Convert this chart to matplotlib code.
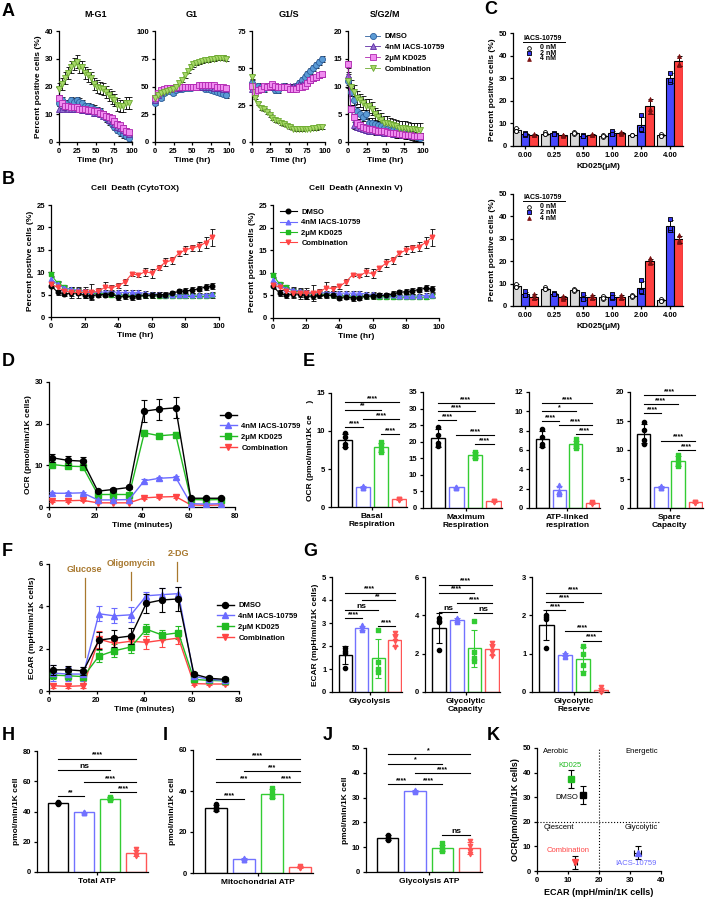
import numpy as np
import matplotlib
matplotlib.use("Agg")
import matplotlib.pyplot as plt
from matplotlib.lines import Line2D

plt.rcParams['font.family'] = ['Liberation Sans', 'DejaVu Sans']
plt.rcParams['font.weight'] = 'bold'
plt.rcParams['axes.labelweight'] = 'bold'
plt.rcParams['axes.titleweight'] = 'bold'
plt.rcParams['font.size'] = 5.5
plt.rcParams['axes.linewidth'] = 0.9

W, H = 708, 899

# ---------------- data ----------------
hours = [0, 4, 8, 12, 16, 20, 24, 28, 32, 36, 40, 44, 48, 52, 56, 60, 64, 68, 72, 76, 80, 84, 88, 92, 96]
groups4 = ['DMSO', '4nM IACS-10759', '2\u03bcM KD025', 'Combination']

# A: cell cycle phases
mg1_dmso = [14, 15, 14, 13, 15, 14.5, 15, 14.5, 14, 13, 13, 12.5, 12, 11.5, 11, 10, 8.5, 7.5, 6.5, 5.5, 4.5, 3.5, 2.8, 2.2, 1.5]
mg1_iacs = [12, 12, 12.5, 12, 12, 12, 12, 12, 11.5, 11.5, 11, 11, 10.5, 10.5, 10, 9.5, 9, 8, 7.5, 6.5, 5.5, 5, 4.5, 3.5, 3]
mg1_kd = [16, 14, 13, 13, 12.5, 12.5, 12.5, 12, 12, 12, 11.5, 11.5, 11, 11, 10.5, 10, 9.5, 9, 8.5, 7.5, 6.5, 6, 5, 4, 3.5]
mg1_combo = [19, 21, 23, 25, 27, 28, 29, 27, 27, 25, 24, 23, 21, 20, 19.5, 19, 18, 17, 16, 15, 13.5, 13, 13, 14, 14]

g1_dmso = [35, 42, 40, 44, 46, 46, 44, 47, 48, 48, 49, 49, 49, 50, 50, 51, 50, 48, 48, 47, 46, 45, 44, 43, 42]
g1_iacs = [38, 42, 45, 47, 48, 48, 49, 49, 49, 50, 50, 50, 50, 50, 50, 50, 50, 50, 50, 50, 49, 49, 49, 48, 48]
g1_kd = [40, 44, 47, 48, 49, 49, 49, 50, 50, 50, 50, 50, 50, 50, 50, 51, 51, 51, 51, 51, 51, 50, 50, 50, 49]
g1_combo = [40, 42, 44, 45, 46, 47, 48, 50, 53, 56, 60, 64, 68, 70, 71, 72, 73, 74, 74, 75, 75, 76, 76, 76, 75]

g1s_dmso = [40, 35, 38, 37, 36, 38, 37, 37, 35, 35, 37, 38, 37, 36, 36, 38, 40, 42, 44, 46, 48, 50, 52, 54, 56]
g1s_iacs = [36, 35, 36, 36, 37, 37, 37, 37, 37, 38, 38, 38, 38, 38, 38, 38, 39, 39, 40, 41, 42, 43, 44, 45, 46]
g1s_kd = [38, 34, 35, 36, 38, 37, 38, 39, 38, 37, 37, 37, 37, 36, 36, 36, 37, 37, 38, 40, 42, 43, 44, 45, 46]
g1s_combo = [44, 30, 26, 23, 22, 20, 18, 16, 15, 14, 13, 12, 11, 10, 9, 8.5, 8.5, 8.5, 9, 9, 9, 9.5, 9.5, 10, 10]

sg2m_dmso = [11, 9, 7.5, 5.5, 5, 4.5, 5, 3.5, 3.5, 3.2, 3, 2.8, 2.6, 2.4, 2.2, 2.1, 2, 1.8, 1.6, 1.5, 1.4, 1.2, 1, 0.9, 0.8]
sg2m_iacs = [12, 6, 3, 2.7, 2.5, 2.4, 2.2, 2, 2, 1.9, 1.8, 1.8, 1.7, 1.6, 1.6, 1.5, 1.4, 1.4, 1.3, 1.2, 1.2, 1.1, 1.1, 1, 1]
sg2m_kd = [14, 6, 4.5, 3.5, 3, 2.7, 2.5, 2.4, 2.3, 2.2, 2, 2, 1.9, 1.8, 1.7, 1.6, 1.6, 1.5, 1.4, 1.3, 1.2, 1.2, 1.1, 1, 1]
sg2m_combo = [11, 10, 9, 8, 7.5, 7, 6.5, 6.5, 6, 5, 4.5, 4, 3.5, 3.5, 3.2, 3, 2.8, 2.6, 2.5, 2.5, 2.4, 2.3, 2.3, 2.2, 2.2]

a_titles = ['M-G1', 'G1', 'G1/S', 'S/G2/M']
a_ymax = [40, 100, 75, 20]
a_yticks = [[0, 10, 20, 30, 40], [0, 25, 50, 75, 100], [0, 25, 50, 75], [0, 5, 10, 15, 20]]
a_err = [[1.2, 1.0, 1.0, 2.2], [2, 1.5, 1.5, 2], [2, 1.5, 1.5, 1.2], [0.8, 0.6, 0.6, 1.2]]

# B: cell death
cyto_dmso = [7, 5.5, 5.2, 5.3, 5.4, 4.8, 4.7, 5, 5, 5.1, 4.5, 4.7, 4.5, 4.6, 4.8, 4.9, 5, 5, 5.3, 5.7, 5.8, 6, 6.3, 6.7, 6.9]
cyto_iacs = [8.5, 7.3, 6.5, 6.2, 6, 5.8, 5.6, 5.5, 5.6, 5.6, 5.5, 5.5, 5.5, 5.5, 5.3, 5.2, 5.1, 5, 5, 4.9, 4.8, 4.8, 4.9, 5, 5.1]
cyto_kd = [9.5, 7.5, 6.8, 6, 5.8, 5.4, 5.3, 5.3, 5.2, 5, 4.9, 4.9, 4.8, 4.8, 4.8, 4.8, 4.7, 4.7, 4.7, 4.6, 4.6, 4.6, 4.6, 4.6, 4.8]
cyto_combo = [7.3, 6.6, 5.8, 5.5, 5.5, 5.5, 5.5, 5.7, 6.6, 6.5, 7, 7.8, 9.6, 9.4, 10.1, 9.8, 11, 12.2, 12.7, 14.2, 15, 15.4, 15.8, 16.6, 17.8]
cyto_combo_err = [0.6, 0.6, 0.7, 1.2, 1.2, 1.2, 1.8, 0.8, 1.2, 0.6, 0.6, 0.6, 0.4, 0.4, 0.9, 1.0, 0.5, 0.9, 0.8, 0.6, 0.9, 0.7, 1.0, 1.3, 1.9]
anx_dmso = [7, 5.5, 5, 5.3, 5.3, 4.9, 4.8, 5, 5, 5, 4.5, 4.7, 4.4, 4.5, 4.8, 4.9, 5, 5, 5.3, 5.7, 5.8, 6, 6.3, 6.6, 6.4]
anx_iacs = [8.5, 7.2, 6.5, 6.2, 6, 5.8, 5.6, 5.5, 5.6, 5.6, 5.5, 5.5, 5.5, 5.5, 5.3, 5.2, 5.1, 5, 5, 4.9, 4.8, 4.8, 4.9, 5, 5.1]
anx_kd = [9.5, 7.5, 6.8, 6, 5.8, 5.4, 5.3, 5.3, 5.2, 5, 4.9, 4.9, 4.8, 4.8, 4.8, 4.8, 4.7, 4.7, 4.7, 4.6, 4.6, 4.6, 4.6, 4.6, 4.8]
anx_combo = [7.3, 6.8, 6, 5.6, 5.5, 5.5, 5.5, 5.7, 6.7, 6.5, 7, 8, 9.6, 9.4, 10.1, 9.8, 11, 12.1, 12.8, 14.3, 15, 15.4, 15.8, 16.7, 17.9]
anx_combo_err = [0.6, 0.6, 0.7, 1.2, 1.2, 1.2, 1.8, 0.8, 1.2, 0.6, 0.6, 0.6, 0.4, 0.4, 0.9, 1.0, 0.5, 0.9, 0.8, 0.6, 0.9, 0.7, 1.0, 1.3, 1.9]
b_dmso_err = 0.6
b_other_err = 0.45

# C: bar charts, replicates
kd_doses = ['0.00', '0.25', '0.50', '1.00', '2.00', '4.00']
iacs_doses = ['0 nM', '2 nM', '4 nM']
c1_0nm = [[8, 6.5, 6.5], [6, 5.2, 5.3], [6.2, 5.5, 5.8], [4.8, 4.2, 4.5], [5, 4.7, 4.8], [5.2, 4.4, 4.6]]
c1_2nm = [[5.8, 5, 5.1], [5.9, 5.3, 5.4], [4.8, 4.3, 4.4], [6.8, 5.2, 5.5], [13.5, 7.5, 7.5], [32.5, 28.5, 29]]
c1_4nm = [[5.2, 4.8, 5], [5, 4.6, 4.8], [5.3, 4.8, 4.9], [6.3, 5.5, 5.6], [21, 15, 16.5], [40, 36, 36.5]]
c2_0nm = [[9.8, 8.6, 8.6], [8.3, 7.5, 7.6], [7.8, 6.8, 7], [4.5, 3.3, 3.6], [4.9, 4.2, 4.4], [3, 2.2, 2.3]]
c2_2nm = [[6.5, 5, 5], [6, 5.2, 5.3], [5.2, 3, 3.2], [5.2, 3.5, 3.9], [11.5, 6.5, 6.6], [38.8, 34, 34.6]]
c2_4nm = [[5.4, 3.5, 3.7], [4.5, 3.3, 3.6], [4.8, 3.5, 3.7], [4.9, 3.5, 3.6], [21.3, 19, 19.7], [31.5, 28.5, 29.4]]

# D / F: seahorse time course
seahorse_min = [1.5, 8, 14.5, 21, 27.5, 34.5, 41, 47.5, 54.5, 61, 67.5, 74]
ocr_dmso = [11.8, 11.2, 11, 3.8, 4.2, 4.7, 23, 23.5, 23.8, 2.1, 2.1, 2.1]
ocr_dmso_err = [1, 1, 1, 0.3, 0.3, 0.3, 2.7, 2.5, 2.5, 0.2, 0.2, 0.2]
ocr_iacs = [3.3, 3.3, 3.4, 1.7, 1.7, 1.8, 6.3, 6.9, 7.1, 0.8, 0.7, 0.8]
ocr_iacs_err = [0.3, 0.3, 0.3, 0.2, 0.2, 0.2, 0.4, 0.4, 0.4, 0.1, 0.1, 0.1]
ocr_kd = [10.2, 9.8, 9.7, 3, 3, 3, 17.8, 17.1, 17.4, 1.8, 1.7, 1.8]
ocr_kd_err = [0.5, 0.5, 0.5, 0.2, 0.2, 0.2, 0.6, 0.6, 0.6, 0.1, 0.1, 0.1]
ocr_combo = [1.5, 1.5, 1.6, 1, 1, 1, 2.2, 2.4, 2.5, 0.5, 0.4, 0.5]
ocr_combo_err = [0.2, 0.2, 0.2, 0.1, 0.1, 0.1, 0.3, 0.3, 0.3, 0.1, 0.1, 0.1]

ecar_dmso = [1.0, 1.0, 0.95, 2.4, 2.5, 2.6, 4.15, 4.3, 4.35, 0.8, 0.6, 0.55]
ecar_dmso_err = [0.25, 0.2, 0.2, 0.4, 0.4, 0.4, 0.45, 0.55, 0.55, 0.1, 0.1, 0.1]
ecar_iacs = [0.85, 0.8, 0.8, 3.65, 3.55, 3.6, 4.5, 4.55, 4.6, 0.7, 0.55, 0.5]
ecar_iacs_err = [0.4, 0.35, 0.35, 0.35, 0.35, 0.35, 0.2, 0.3, 0.3, 0.1, 0.1, 0.1]
ecar_kd = [0.75, 0.72, 0.68, 1.65, 1.9, 2.08, 2.92, 2.65, 2.75, 0.55, 0.5, 0.48]
ecar_kd_err = [0.2, 0.2, 0.2, 0.3, 0.3, 0.3, 0.25, 0.25, 0.3, 0.1, 0.1, 0.1]
ecar_combo = [0.25, 0.22, 0.25, 2.45, 2.25, 2.35, 2.3, 2.4, 2.5, 0.35, 0.33, 0.33]
ecar_combo_err = [0.1, 0.1, 0.1, 0.4, 0.35, 0.3, 0.3, 0.3, 0.3, 0.05, 0.05, 0.05]
injections = ['Glucose', 'Oligomycin', '2-DG']
inj_x = [15, 34.5, 54]
inj_top = [5.34, 5.6, 6.1]
inj_bottom = [1.6, 4.3, 5.2]

# E: OCR parameters (replicates per group: DMSO, IACS, KD025, Combination)
e_names = ['Basal\nRespiration', 'Maximum\nRespiration', 'ATP-linked\nrespiration', 'Spare\nCapacity']
e_reps = [
    [[9.8, 9.2, 8.3, 7.9], [2.8, 2.6, 2.5, 2.5], [8.6, 8.1, 7.5, 7.2], [1.1, 1.0, 0.95, 0.9]],
    [[24.5, 22, 19.5, 18.7], [6.4, 6.2, 6.1, 6.1], [17, 16.2, 15.5, 15.2], [2.2, 2, 1.9, 1.8]],
    [[8.2, 7.3, 6.6, 6.4], [2.4, 1.8, 1.6, 1.5], [7.1, 6.6, 6.4, 6.2], [0.6, 0.5, 0.5, 0.45]],
    [[14.8, 13.5, 11.8, 11.1], [3.8, 3.6, 3.5, 3.5], [9.2, 8.3, 7.6, 7.3], [1.1, 1.0, 0.9, 0.8]],
]
e_ymax = [15, 35, 12, 20]
e_ystep = [5, 5, 2, 5]
e_sig = [
    [(0, 3, 13.8, '****'), (0, 2, 12.8, '**'), (1, 3, 11.6, '****'), (0, 1, 10.5, '****'), (2, 3, 9.6, '****')],
    [(0, 3, 31.7, '****'), (0, 2, 29.3, '****'), (0, 1, 26.6, '****'), (1, 3, 22.1, '****'), (2, 3, 19.3, '****')],
    [(0, 3, 10.86, '****'), (0, 2, 10.0, '*'), (0, 1, 8.95, '****'), (1, 3, 8.57, '****'), (2, 3, 7.67, '****')],
    [(0, 3, 19.4, '****'), (0, 2, 17.9, '****'), (0, 1, 16.4, '****'), (1, 3, 11.6, '****'), (2, 3, 10.0, '****')],
]

# G: ECAR parameters
g_names = ['Glycolysis', 'Glycolytic\nCapacity', 'Glycolytic\nReserve']
g_reps = [
    [[1.9, 1.8, 1.7, 1.05], [2.9, 2.85, 2.75, 2.7], [2.68, 1.3, 1.0, 0.85], [2.55, 2.4, 2.2, 1.95]],
    [[3.85, 3.7, 3.65, 2.2], [3.85, 3.8, 3.7, 3.65], [3.68, 2.1, 1.75, 1.6], [2.55, 2.35, 2.1, 1.9]],
    [[2.0, 1.95, 1.9, 1.15], [1.02, 1.0, 0.95, 0.92], [1.2, 1.0, 0.7, 0.5], [0.12, 0.05, 0.02, 0.0]],
]
g_ymax = [5, 6, 3]
g_ystep = [1, 2, 1]
g_sig = [
    [(0, 3, 4.32, '****'), (1, 3, 3.99, '**'), (0, 2, 3.56, 'ns'), (0, 1, 3.2, '****'), (2, 3, 2.88, '****')],
    [(0, 3, 5.6, '****'), (0, 2, 5.18, '****'), (1, 3, 4.64, '****'), (0, 1, 4.16, 'ns'), (2, 3, 4.12, 'ns')],
    [(0, 3, 2.58, '****'), (0, 2, 2.36, '****'), (0, 1, 2.13, '****'), (1, 3, 1.58, '****'), (2, 3, 1.34, '****')],
]

# H, I, J: ATP production
atp_names = ['Total ATP', 'Mitochondrial ATP', 'Glycolysis ATP']
atp_reps = [
    [[46.5, 45.8, 45.3, 45], [40, 39.5, 39.3, 39.2], [49.5, 48.8, 48.2, 47.8], [15.5, 13, 11.5, 10.5]],
    [[33.5, 32, 31, 30.5], [7.5, 6.8, 6.5, 6.3], [41.5, 39, 37.5, 37], [3.5, 2.8, 2.5, 2.3]],
    [[15, 14, 13.5, 12.8], [33, 32.7, 32.5, 32.3], [11.5, 10, 9, 8.3], [12.5, 10.5, 8.5, 7.3]],
]
atp_ymax = [80, 60, 50]
atp_ystep = [20, 20, 10]
atp_sig = [
    [(0, 3, 75, '****'), (0, 2, 67.7, 'ns'), (1, 3, 59.6, '****'), (2, 3, 52.8, '****'), (0, 1, 50.2, '**')],
    [(0, 3, 55.4, '****'), (1, 3, 49.8, '***'), (0, 2, 44.4, '***'), (2, 3, 44.4, '****'), (0, 1, 36.1, '****')],
    [(0, 3, 47.6, '*'), (0, 2, 43.7, '*'), (1, 3, 39.8, '****'), (0, 1, 35.4, '****'), (1, 2, 35.4, '****'), (2, 3, 15.1, 'ns')],
]

# K: energy map
k_names = ['DMSO', 'IACS-10759', 'KD025', 'Combination']
k_ecar = [14.8, 32.5, 11.0, 12.3]
k_ecar_err = [0.4, 1.2, 0.4, 0.5]
k_ocr = [31.0, 7.5, 37.5, 3.5]
k_ocr_err = [3.7, 2.5, 3.7, 2.5]

# ---------------- styles ----------------
a_face = ['#5B9BD5', '#9370D0', '#F08CF0', '#A8D86A']
a_edge = ['#2E5F9E', '#5E2CA5', '#B025B0', '#6CAA30']
a_mark = ['o', '^', 's', 'v']
line_col = ['#000000', '#6B6BFF', '#22BB22', '#FF4545']
bar_col = ['#000000', '#7272FF', '#33CC33', '#FF5555']
mk4 = ['o', '^', 's', 'v']
c_fill = ['#D9D9D9', '#4848FF', '#FF4040']
c_dot = ['white', '#3333EE', '#7A1010']
c_mk = ['o', 's', '^']
brown = '#A8782E'


def px_ax(l, t, r, b):
    return fig.add_axes([l / W, 1 - b / H, (r - l) / W, (b - t) / H])


def style(ax, size=5.5):
    ax.spines['top'].set_visible(False)
    ax.spines['right'].set_visible(False)
    ax.tick_params(direction='out', length=2.5, width=0.9, labelsize=size, pad=1.5)


def letter(x, y, s):
    fig.text(x / W, 1 - y / H, s, fontsize=13, fontweight='bold', va='center', ha='left')


def sig(ax, x1, x2, y, txt):
    ax.plot([x1, x2], [y, y], color='k', lw=0.8, clip_on=False)
    fs = 6 if txt == 'ns' else 5
    ax.text((x1 + x2) / 2, y, txt, ha='center', va='bottom', fontsize=fs)


def bar_panel(ax, reps, ymax, ystep, sigs, name, ylabel=None):
    style(ax)
    xs = [0, 1, 2, 3]
    means = [np.mean(r) for r in reps]
    sds = [np.std(r, ddof=1) for r in reps]
    ax.bar(xs, means, width=0.78, facecolor='white', edgecolor=bar_col, linewidth=1.0, zorder=1)
    for i in xs:
        ax.errorbar(i, means[i], yerr=sds[i], color=bar_col[i], capsize=2.2, elinewidth=0.8,
                    capthick=0.8, zorder=3)
        ax.scatter([i] * len(reps[i]), reps[i], marker=mk4[i], s=9, color=bar_col[i], zorder=2,
                   clip_on=False)
    for (a, b, y, t) in sigs:
        sig(ax, a, b, y, t)
    ax.set_xlim(-0.8, 3.45)
    ax.set_ylim(0, ymax)
    ax.set_yticks(np.arange(0, ymax + 0.01, ystep))
    ax.set_xticks([1.5])
    ax.set_xticklabels([name], fontsize=6)
    if ylabel:
        ax.set_ylabel(ylabel, fontsize=6, labelpad=2)


fig = plt.figure(figsize=(W / 100, H / 100), dpi=100)

# ---------------- A ----------------
a_data = [
    [mg1_dmso, mg1_iacs, mg1_kd, mg1_combo],
    [g1_dmso, g1_iacs, g1_kd, g1_combo],
    [g1s_dmso, g1s_iacs, g1s_kd, g1s_combo],
    [sg2m_dmso, sg2m_iacs, sg2m_kd, sg2m_combo],
]
a_pos = [(59, 31, 132, 142), (155, 31, 229, 142), (252, 31, 325, 142), (348, 31, 423, 142)]
handles = []
for k in range(4):
    ax = px_ax(*a_pos[k])
    style(ax)
    for s in range(4):
        ax.errorbar(hours, a_data[k][s], yerr=a_err[k][s], fmt='none', ecolor='k', elinewidth=0.6,
                    capsize=1.8, capthick=0.6, zorder=2, clip_on=False)
    for s in range(4):
        h, = ax.plot(hours, a_data[k][s], color=a_edge[s], lw=0.6, marker=a_mark[s], ms=4.4,
                     mfc=a_face[s], mec=a_edge[s], mew=0.6, zorder=3, clip_on=False)
        if k == 0:
            handles.append(h)
    ax.set_xlim(0, 100)
    ax.set_ylim(0, a_ymax[k])
    ax.set_xticks([0, 25, 50, 75, 100])
    ax.set_yticks(a_yticks[k])
    ax.set_xlabel('Time (hr)', fontsize=6, labelpad=1.5)
    ax.set_title(a_titles[k], fontsize=6.5, pad=10)
    if k == 0:
        ax.set_ylabel('Percent positive cells (%)', fontsize=6, labelpad=2)
fig.legend(handles, groups4, loc='upper left', bbox_to_anchor=(358 / W, 1 - 26 / H), frameon=False,
           fontsize=5.5, handlelength=2.0, labelspacing=0.45, handletextpad=0.6)

# ---------------- B ----------------
b_data = [[cyto_dmso, cyto_iacs, cyto_kd, cyto_combo], [anx_dmso, anx_iacs, anx_kd, anx_combo]]
b_comb_err = [cyto_combo_err, anx_combo_err]
b_titles = ['Cell  Death (CytoTOX)', 'Cell  Death (Annexin V)']
b_pos = [(51, 205, 219, 317), (273, 205, 439, 318)]
for k in range(2):
    ax = px_ax(*b_pos[k])
    style(ax)
    errs = [b_dmso_err, b_other_err, b_other_err, b_comb_err[k]]
    for s in range(4):
        ax.errorbar(hours, b_data[k][s], yerr=errs[s], fmt='none', ecolor='k', elinewidth=0.6,
                    capsize=1.8, capthick=0.6, zorder=2)
    for s in [2, 1, 0, 3]:
        ax.plot(hours, b_data[k][s], color=line_col[s], lw=0.8, marker=mk4[s], ms=3.3,
                mec=line_col[s], zorder=3, clip_on=False)
    hs = [Line2D([], [], color=line_col[s], lw=0.8, marker=mk4[s], ms=3.3) for s in range(4)]
    ax.set_xlim(0, 100)
    ax.set_ylim(0, 25)
    ax.set_xticks([0, 20, 40, 60, 80, 100])
    ax.set_yticks([0, 5, 10, 15, 20, 25])
    ax.set_xlabel('Time (hr)', fontsize=6, labelpad=1.5)
    ax.set_ylabel('Percent postive cells (%)', fontsize=6, labelpad=2)
    ax.set_title(b_titles[k], fontsize=6, pad=11)
    if k == 1:
        ax.legend(hs, groups4, loc='upper left', bbox_to_anchor=(0.0, 1.03), frameon=False,
                  fontsize=5.5, handlelength=2.2, labelspacing=0.4, handletextpad=0.6)

# ---------------- C ----------------
c_sets = [[c1_0nm, c1_2nm, c1_4nm], [c2_0nm, c2_2nm, c2_4nm]]
c_pos = [(513, 33, 683, 146), (513, 194, 683, 306)]
c_leg_top = [0.955, 0.97]
for k in range(2):
    ax = px_ax(*c_pos[k])
    style(ax)
    gx = np.arange(len(kd_doses))
    for d in range(3):
        reps = c_sets[k][d]
        means = [np.mean(r) for r in reps]
        sds = [np.std(r, ddof=1) for r in reps]
        xs = gx + (d - 1) * 0.3
        ax.bar(xs, means, width=0.3, color=c_fill[d], edgecolor='k', linewidth=0.8, zorder=1)
        ax.errorbar(xs, means, yerr=sds, fmt='none', ecolor='k', elinewidth=0.7, capsize=1.8,
                    capthick=0.7, zorder=3)
        for i in range(len(kd_doses)):
            ax.scatter([xs[i]] * 3, reps[i], marker=c_mk[d], s=8, facecolor=c_dot[d],
                       edgecolor='k' if d < 2 else c_dot[d], linewidth=0.6, zorder=4)
    ax.set_xlim(-0.41, 5.45)
    ax.set_ylim(0, 50)
    ax.set_yticks([0, 10, 20, 30, 40, 50])
    ax.set_xticks(gx)
    ax.set_xticklabels(kd_doses)
    ax.set_xlabel('KD025(\u03bcM)', fontsize=6, labelpad=3)
    ax.set_ylabel('Percent positive cells (%)', fontsize=6, labelpad=2)
    # hand-made legend with underlined title
    top = c_leg_top[k]
    ax.text(0.06, top, 'IACS-10759', transform=ax.transAxes, fontsize=5, va='center', ha='left')
    ax.plot([0.06, 0.305], [top - 0.035, top - 0.035], transform=ax.transAxes, color='k', lw=0.7,
            clip_on=False)
    for d in range(3):
        yy = top - 0.085 - d * 0.05
        ax.scatter([0.095], [yy], transform=ax.transAxes, marker=c_mk[d], s=7, facecolor=c_dot[d],
                   edgecolor='k' if d < 2 else c_dot[d], linewidth=0.6, clip_on=False)
        ax.text(0.16, yy, iacs_doses[d], transform=ax.transAxes, fontsize=5, va='center', ha='left')

# ---------------- D ----------------
ax = px_ax(49, 382, 235, 507)
style(ax)
ocr_sets = [(ocr_dmso, ocr_dmso_err), (ocr_iacs, ocr_iacs_err), (ocr_kd, ocr_kd_err), (ocr_combo, ocr_combo_err)]
for s in [3, 2, 1, 0]:
    v, e = ocr_sets[s]
    ax.errorbar(seahorse_min, v, yerr=e, color=line_col[s], lw=1.0, marker=mk4[s], ms=4.3,
                capsize=2.2, elinewidth=0.8, capthick=0.8, zorder=3 + (s == 0))
d_handles = [Line2D([], [], color=line_col[s], lw=1.0, marker=mk4[s], ms=4.3) for s in range(4)]
ax.set_xlim(0, 80)
ax.set_ylim(0, 30)
ax.set_xticks([0, 20, 40, 60, 80])
ax.set_yticks([0, 10, 20, 30])
ax.set_xlabel('Time (minutes)', fontsize=6, labelpad=2)
ax.set_ylabel('OCR (pmol/min/1K cells)', fontsize=6, labelpad=2)
fig.legend(d_handles, ['', groups4[1], groups4[2], groups4[3]], loc='upper left',
           bbox_to_anchor=(213 / W, 1 - 405 / H), frameon=False, fontsize=5.5, handlelength=2.2,
           labelspacing=0.45, handletextpad=0.6)

# ---------------- E ----------------
e_pos = [(331, 393, 407, 507), (423, 392, 502, 508), (529, 392, 600, 508), (630, 392, 703, 508)]
for k in range(4):
    ax = px_ax(*e_pos[k])
    bar_panel(ax, e_reps[k], e_ymax[k], e_ystep[k], e_sig[k], e_names[k],
              'OCR (pmol/min/1K ce     )' if k == 0 else None)

# ---------------- F ----------------
ax = px_ax(49, 564, 239, 691)
style(ax)
ecar_sets = [(ecar_dmso, ecar_dmso_err), (ecar_iacs, ecar_iacs_err), (ecar_kd, ecar_kd_err), (ecar_combo, ecar_combo_err)]
for s in [3, 2, 1, 0]:
    v, e = ecar_sets[s]
    ax.errorbar(seahorse_min, v, yerr=e, color=line_col[s], lw=1.0, marker=mk4[s], ms=4.3,
                capsize=2.2, elinewidth=0.8, capthick=0.8, zorder=3 + (s == 0))
for i in range(3):
    ax.plot([inj_x[i], inj_x[i]], [inj_bottom[i], inj_top[i]], color=brown, lw=0.9, clip_on=False)
    ax.text(inj_x[i] + (0 if i < 2 else 0.5), inj_top[i] + 0.2, injections[i], color=brown,
            fontsize=6.5, ha='center', va='bottom')
f_handles = [Line2D([], [], color=line_col[s], lw=1.0, marker=mk4[s], ms=4.3) for s in range(4)]
ax.set_xlim(0, 80)
ax.set_ylim(0, 6)
ax.set_xticks([0, 20, 40, 60, 80])
ax.set_yticks([0, 2, 4, 6])
ax.set_xlabel('Time (minutes)', fontsize=6, labelpad=2)
ax.set_ylabel('ECAR (mpH/min/1K cells)', fontsize=6, labelpad=2)
fig.legend(f_handles, groups4, loc='upper left', bbox_to_anchor=(210 / W, 1 - 595 / H), frameon=False,
           fontsize=5.5, handlelength=2.2, labelspacing=0.45, handletextpad=0.6)

# ---------------- G ----------------
g_pos = [(332, 577, 402, 692), (425, 577, 500, 692), (532, 577, 609, 692)]
for k in range(3):
    ax = px_ax(*g_pos[k])
    bar_panel(ax, g_reps[k], g_ymax[k], g_ystep[k], g_sig[k], g_names[k],
              'ECAR (mpH/min/1K cells)' if k == 0 else None)

# ---------------- H, I, J ----------------
atp_pos = [(37, 751, 148, 872), (193, 750, 313, 873), (366, 748, 482, 872)]
for k in range(3):
    ax = px_ax(*atp_pos[k])
    bar_panel(ax, atp_reps[k], atp_ymax[k], atp_ystep[k], atp_sig[k], atp_names[k],
              'pmol/min/1K cell')

# ---------------- K ----------------
ax = px_ax(537, 748, 661, 871)
style(ax)
k_col = ['#000000', '#6B6BFF', '#22BB22', '#FF4545']
k_mk = ['s', '^', 's', 'v']
for i in range(4):
    ax.errorbar(k_ecar[i], k_ocr[i], xerr=k_ecar_err[i], yerr=k_ocr_err[i], fmt=k_mk[i], ms=4.5,
                color=k_col[i], ecolor='k', elinewidth=0.8, capsize=2.2, capthick=0.8, zorder=3)
ax.axvline(20, ls=':', color='k', lw=0.8)
ax.axhline(20, ls=':', color='k', lw=0.8)
ax.text(2, 48.5, 'Aerobic', fontsize=5.5, fontweight='normal', va='center')
ax.text(39, 48.5, 'Energetic', fontsize=5.5, fontweight='normal', va='center', ha='right')
ax.text(2, 17.5, 'Qiescent', fontsize=5.5, fontweight='normal', va='center')
ax.text(39, 17.5, 'Glycolytic', fontsize=5.5, fontweight='normal', va='center', ha='right')
ax.text(10.5, 43, k_names[2], color=k_col[2], fontsize=5.5, fontweight='normal', ha='center', va='center')
ax.text(13.2, 30, k_names[0], color='k', fontsize=5.5, fontweight='normal', ha='right', va='center')
ax.text(10, 8.5, k_names[3], color=k_col[3], fontsize=5.5, fontweight='normal', ha='center', va='center')
ax.text(32, 3, k_names[1], color=k_col[1], fontsize=5.5, fontweight='normal', ha='center', va='center')
ax.set_xlim(0, 40)
ax.set_ylim(0, 50)
ax.set_xticks([0, 10, 20, 30, 40])
ax.set_yticks([0, 10, 20, 30, 40, 50])
ax.set_xlabel('ECAR (mpH/min/1K cells)', fontsize=6.5, labelpad=3)
ax.set_ylabel('OCR(pmol/min/1K cells)', fontsize=6.5, labelpad=2)

# ---------------- panel letters ----------------
letter(2, 12, 'A')
letter(2, 180, 'B')
letter(484, 10, 'C')
letter(2, 362, 'D')
letter(303, 362, 'E')
letter(2, 552, 'F')
letter(303, 552, 'G')
letter(2, 736, 'H')
letter(163, 736, 'I')
letter(323, 736, 'J')
letter(487, 736, 'K')

fig.savefig('out.png', dpi=100)
